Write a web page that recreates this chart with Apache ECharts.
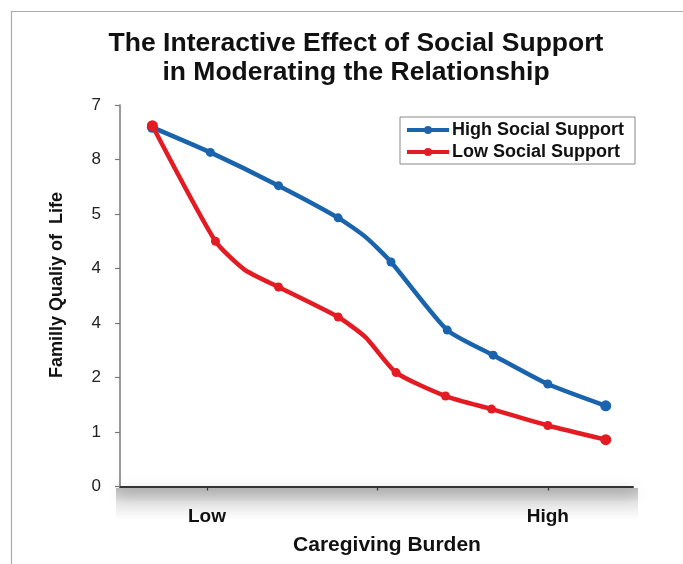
<!DOCTYPE html>
<html>
<head>
<meta charset="utf-8">
<script src="https://cdn.jsdelivr.net/npm/echarts@6/dist/echarts.min.js"></script>
<style>
  html, body { margin: 0; padding: 0; background: #fff; }
  #chart { width: 683px; height: 564px; }
</style>
</head>
<body>
<div id="chart"></div>
<script>
// Caregiving burden (x) and family quality of life (y) for each support group
const highBurden = [-0.32, 0.02, 0.42, 0.77, 0.93, 1.08, 1.41, 1.68, 2.0, 2.34];
const highQuality = [6.59, 6.13, 5.52, 4.93, 4.58, 4.12, 2.87, 2.41, 1.88, 1.48];
const highBends = [4];   // points on the curve drawn without a marker

const lowBurden = [-0.32, 0.05, 0.22, 0.42, 0.77, 0.93, 1.11, 1.40, 1.67, 2.0, 2.34];
const lowQuality = [6.62, 4.50, 3.98, 3.66, 3.11, 2.74, 2.09, 1.66, 1.42, 1.12, 0.86];
const lowBends = [2, 5];

// Axis tick labels
const qualityTicks = ['0', '1', '2', '4', '4', '5', '8', '7'];
const burdenTicks = [0, 1, 2];
const burdenLabels = { 0: 'Low', 2: 'High' };

const seriesNames = ['High Social Support', 'Low Social Support'];

const zip = (xs, ys) => xs.map((x, i) => [x, ys[i]]);
const sizeFn = (bends, last) => (v, p) => {
  if (bends.indexOf(p.dataIndex) >= 0) return 0;
  return (p.dataIndex === 0 || p.dataIndex === last) ? 11 : 9;
};

const chart = echarts.init(document.getElementById('chart'), null, { renderer: 'canvas' });

const font = '"Liberation Sans", Arial, sans-serif';

chart.setOption({
  animation: false,
  backgroundColor: '#ffffff',
  title: {
    text: 'The Interactive Effect of Social Support\nin Moderating the Relationship',
    left: 351,
    top: 24,
    textAlign: 'center',
    textStyle: { fontFamily: font, fontWeight: 'bold', fontSize: 26.5, lineHeight: 29, color: '#111' }
  },
  legend: {
    orient: 'vertical',
    left: 400,
    top: 117,
    padding: [4, 11, 3, 5],
    itemGap: 4,
    itemWidth: 42,
    itemHeight: 10,
    borderColor: '#888',
    borderWidth: 1,
    backgroundColor: '#fff',
    lineStyle: { width: 4 },
    textStyle: { fontFamily: font, fontWeight: 'bold', fontSize: 18, color: '#111', padding: [0, 0, 0, -2] },
    data: seriesNames
  },
  grid: { left: 120, right: 50, top: 105, bottom: 77.5, containLabel: false },
  xAxis: {
    type: 'value',
    min: -0.51,
    max: 2.5,
    splitLine: { show: false },
    axisLine: {
      lineStyle: { color: '#333', width: 2, shadowColor: 'rgba(0,0,0,0.6)', shadowBlur: 14, shadowOffsetY: 6 }
    },
    axisTick: { customValues: burdenTicks, length: 4, lineStyle: { color: '#333', width: 1.2 } },
    axisLabel: {
      customValues: [0, 2],
      formatter: v => burdenLabels[Math.round(v)] || '',
      margin: 21,
      fontFamily: font, fontWeight: 'bold', fontSize: 19, color: '#111'
    }
  },
  yAxis: {
    type: 'value',
    min: 0,
    max: 7,
    interval: 1,
    splitLine: { show: false },
    axisLine: { show: true, onZero: false, lineStyle: { color: '#777', width: 1.5 } },
    axisTick: { show: true, length: 5, lineStyle: { color: '#777', width: 1.2 } },
    axisLabel: {
      formatter: v => qualityTicks[Math.round(v)],
      margin: 19,
      fontFamily: font, fontSize: 17, color: '#222'
    }
  },
  graphic: [
    {
      type: 'rect',
      silent: true,
      shape: { x: 11.5, y: 11.5, width: 700, height: 600 },
      style: { fill: 'none', stroke: '#aaa', lineWidth: 1.2 }
    },
    {
      // soft drop shade beneath the horizontal axis
      type: 'rect',
      silent: true,
      z: -1,
      shape: { x: 116, y: 488, width: 522, height: 32 },
      style: {
        fill: new echarts.graphic.LinearGradient(0, 0, 0, 1, [
          { offset: 0, color: 'rgba(0,0,0,0.26)' },
          { offset: 0.45, color: 'rgba(0,0,0,0.10)' },
          { offset: 1, color: 'rgba(0,0,0,0)' }
        ])
      }
    },
    {
      type: 'text',
      x: 57,
      y: 285,
      rotation: Math.PI / 2,
      style: {
        text: 'Familly Qualiy of  Life',
        font: 'bold 18px ' + font,
        fill: '#111',
        align: 'center',
        verticalAlign: 'middle'
      }
    },
    {
      type: 'text',
      x: 387,
      y: 545,
      style: {
        text: 'Caregiving Burden',
        font: 'bold 21px ' + font,
        fill: '#111',
        align: 'center',
        verticalAlign: 'middle'
      }
    }
  ],
  series: [
    {
      name: seriesNames[0],
      type: 'line',
      smooth: 0.2,
      data: zip(highBurden, highQuality),
      symbol: 'circle',
      symbolSize: sizeFn(highBends, highBurden.length - 1),
      lineStyle: { color: '#1a63ad', width: 4.5 },
      itemStyle: { color: '#1a63ad' },
      z: 3
    },
    {
      name: seriesNames[1],
      type: 'line',
      smooth: 0.2,
      data: zip(lowBurden, lowQuality),
      symbol: 'circle',
      symbolSize: sizeFn(lowBends, lowBurden.length - 1),
      lineStyle: { color: '#e31b23', width: 4.5 },
      itemStyle: { color: '#e31b23' },
      z: 4
    }
  ]
});
</script>
</body>
</html>
